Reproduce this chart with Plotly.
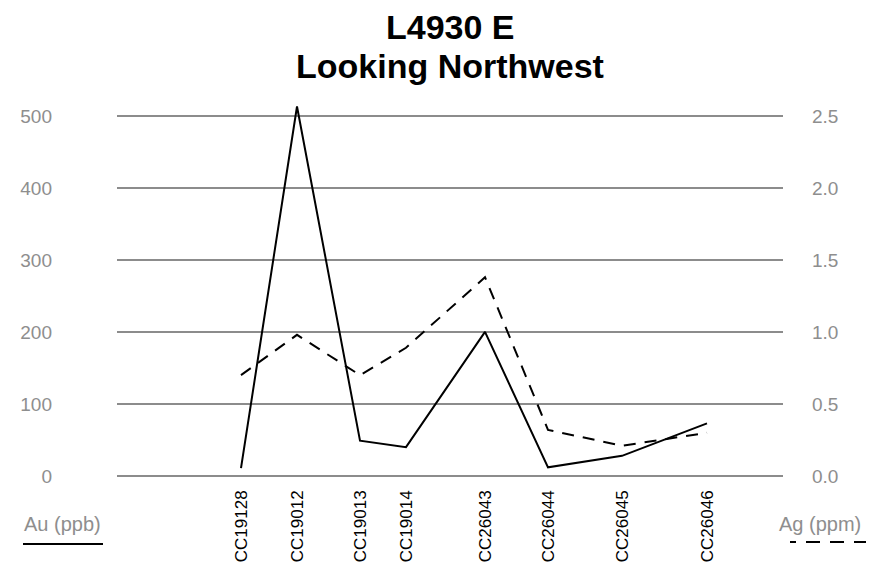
import plotly.graph_objects as go

# ---- data ----
samples = ["CC19128", "CC19012", "CC19013", "CC19014", "CC26043", "CC26044", "CC26045", "CC26046"]
station = [124, 180, 243, 289, 368, 431, 505, 590]      # relative position along the line
au_ppb = [11, 513, 49, 40, 200, 12, 28, 73]
ag_ppm = [0.70, 0.98, 0.70, 0.89, 1.38, 0.32, 0.21, 0.30]
au_ticks = [0, 100, 200, 300, 400, 500]
ag_ticks = [0.0, 0.5, 1.0, 1.5, 2.0, 2.5]

FONT = "Liberation Sans, Arial, sans-serif"
GRID = "#8c8c8c"
TICKC = "#8e8e8e"

OFF = 8                      # page body margin of the html page
W, H = 882 - OFF, 566 - OFF
L, R, T, B = 117 - OFF, 99, 100 - OFF, 90
pw, ph = W - L - R, H - T - B
X0, Y0 = L + OFF, T + OFF + ph     # plot-area origin in page pixels


def px_x(x):
    return (x - X0) / pw


def px_y(y):
    return (Y0 - y) / ph


fig = go.Figure()
fig.add_trace(go.Scatter(x=station, y=au_ppb, mode="lines", name="Au (ppb)",
                         line=dict(color="black", width=2), yaxis="y"))
fig.add_trace(go.Scatter(x=station, y=ag_ppm, mode="lines", name="Ag (ppm)",
                         line=dict(color="black", width=2, dash="12px,9px"), yaxis="y2"))

ymax = 522
fig.update_layout(
    width=W, height=H,
    margin=dict(l=L, r=R, t=T, b=B, autoexpand=False),
    paper_bgcolor="white", plot_bgcolor="white",
    showlegend=False,
    xaxis=dict(range=[0, pw], tickvals=station, ticktext=samples, tickangle=-90,
               showgrid=False, zeroline=False, showline=False, ticks="", automargin=False,
               ticklabelstandoff=10,
               tickfont=dict(family=FONT, size=17, color="black")),
    yaxis=dict(range=[0, ymax], tickvals=au_ticks, showgrid=True, gridcolor=GRID, gridwidth=2,
               zeroline=True, zerolinecolor=GRID, zerolinewidth=2, showline=False, ticks="",
               automargin=False, ticklabelstandoff=64,
               tickfont=dict(family=FONT, size=19, color=TICKC)),
    yaxis2=dict(range=[0, ymax / 200], tickvals=ag_ticks, tickformat=".1f", overlaying="y",
                side="right", showgrid=False, zeroline=False, showline=False, ticks="",
                automargin=False, ticklabelstandoff=28,
                tickfont=dict(family=FONT, size=19, color=TICKC)),
)

# title (two lines, tight spacing)
for txt, yc in (("<b>L4930 E</b>", 27), ("<b>Looking Northwest</b>", 66)):
    fig.add_annotation(text=txt, xref="paper", yref="paper", x=px_x(450), y=px_y(yc),
                       showarrow=False, xanchor="center", yanchor="middle",
                       font=dict(family=FONT, size=34, color="black"))

# custom legend-like labels below the axes
fig.add_annotation(text="Au (ppb)", xref="paper", yref="paper", x=px_x(62), y=px_y(524),
                   showarrow=False, xanchor="center", yanchor="middle",
                   font=dict(family=FONT, size=20, color=TICKC))
fig.add_annotation(text="Ag (ppm)", xref="paper", yref="paper", x=px_x(820), y=px_y(524),
                   showarrow=False, xanchor="center", yanchor="middle",
                   font=dict(family=FONT, size=20, color=TICKC))
fig.add_shape(type="line", xref="paper", yref="paper", x0=px_x(23), x1=px_x(103),
              y0=px_y(544), y1=px_y(544), line=dict(color="black", width=2))
fig.add_shape(type="line", xref="paper", yref="paper", x0=px_x(790), x1=px_x(866),
              y0=px_y(542), y1=px_y(542),
              line=dict(color="black", width=2, dash="6px,10px,14px,10px,14px,10px,12px,10px"))

fig.write_html("out.html")
